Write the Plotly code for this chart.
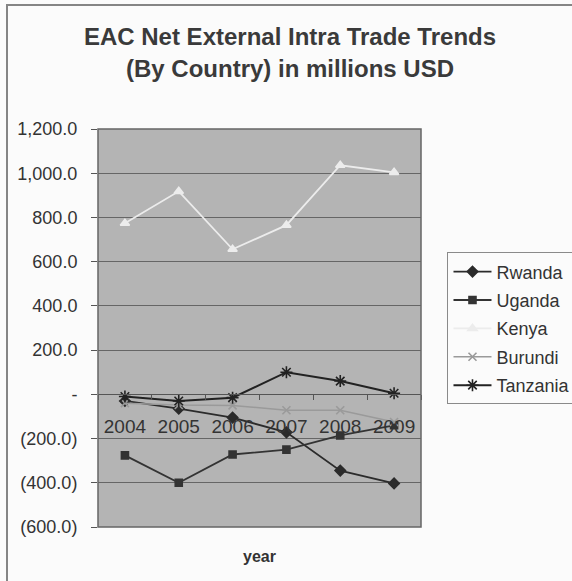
import plotly.graph_objects as go

# Years and net external intra-trade (millions USD) per country
years = ["2004", "2005", "2006", "2007", "2008", "2009"]
rwanda = [-30, -65, -105, -172, -345, -403]
uganda = [-276, -400, -272, -250, -186, -140]
kenya = [774, 918, 656, 765, 1036, 1004]
burundi = [-40, -48, -50, -72, -72, -125]
tanzania = [-10, -30, -15, 100, 60, 5]

y_tickvals = [1200, 1000, 800, 600, 400, 200, 0, -200, -400, -600]
y_ticktext = ["1,200.0", "1,000.0", "800.0", "600.0", "400.0", "200.0", "-",
              "(200.0)", "(400.0)", "(600.0)"]

series = [
    ("Rwanda", rwanda, "#2b2b2b", "diamond", 8, 1.8),
    ("Uganda", uganda, "#333333", "square", 7, 1.8),
    ("Kenya", kenya, "#ececec", "triangle-up", 8, 1.8),
    ("Burundi", burundi, "#9a9a9a", "x-thin-open", 8, 1.5),
    ("Tanzania", tanzania, "#222222", "asterisk-open", 10, 2.0),
]

fig = go.Figure()
for name, vals, color, symbol, size, width in series:
    fig.add_trace(go.Scatter(
        x=years, y=vals, name=name, legendgroup=name, mode="lines+markers",
        line=dict(color=color, width=width),
        marker=dict(symbol=symbol, size=size, color=color,
                    line=dict(color=color, width=1.6)),
    ))

FONT = "Liberation Sans, Arial, sans-serif"
Y_MIN, Y_MAX = -600, 1200

fig.update_layout(
    width=572, height=581,
    margin=dict(l=98, r=151, t=129, b=54, autoexpand=False),
    paper_bgcolor="#fbfbfb",
    plot_bgcolor="#b4b4b4",
    font=dict(family=FONT, color="#333333"),
    title=dict(
        text="EAC Net External Intra Trade Trends<br>(By Country) in millions USD",
        font=dict(family=FONT, size=24, color="#3a3a3a", weight="bold"),
        x=0.507, xref="container", xanchor="center",
        y=0.9217, yref="container", yanchor="middle",
    ),
    showlegend=True,
    legend=dict(
        x=1.082, y=0.69, xanchor="left", yanchor="top",
        bgcolor="#fbfbfb", bordercolor="#8a8a8a", borderwidth=1,
        font=dict(family=FONT, size=18, color="#333333"),
        itemwidth=38, traceorder="grouped", tracegroupgap=2,
    ),
    xaxis=dict(
        type="category", range=[-0.5, 5.5],
        anchor="free", position=(0 - Y_MIN) / (Y_MAX - Y_MIN),
        showline=True, linecolor="#555555", linewidth=1.2,
        ticks="outside", tickson="boundaries", ticklen=5, tickcolor="#555555",
        tickfont=dict(family=FONT, size=19, color="#333333"),
        tickangle=0, ticklabelstandoff=15,
        showgrid=False, zeroline=False,
    ),
    yaxis=dict(
        range=[Y_MIN, Y_MAX],
        tickvals=y_tickvals, ticktext=y_ticktext,
        ticks="outside", ticklen=6, tickcolor="#555555",
        tickfont=dict(family=FONT, size=18, color="#333333"),
        ticklabelstandoff=10,
        showgrid=True, gridcolor="#666666", gridwidth=1,
        zeroline=False, showline=False,
    ),
    annotations=[dict(
        text="<b>year</b>", x=0.5, y=-0.075, xref="paper", yref="paper",
        xanchor="center", yanchor="middle", showarrow=False,
        font=dict(family=FONT, size=16, color="#333333"),
    )],
    shapes=[
        # plot-area border
        dict(type="rect", xref="paper", yref="paper", x0=0, x1=1, y0=0, y1=1,
             line=dict(color="#666666", width=1.5)),
        # outer chart frame
        dict(type="rect", xref="paper", yref="paper",
             x0=(7 - 98) / 323, x1=(620 - 98) / 323,
             y0=(527 - 640) / 398, y1=(527 - 5) / 398,
             line=dict(color="#858585", width=2)),
    ],
)

fig.write_html("out.html")
